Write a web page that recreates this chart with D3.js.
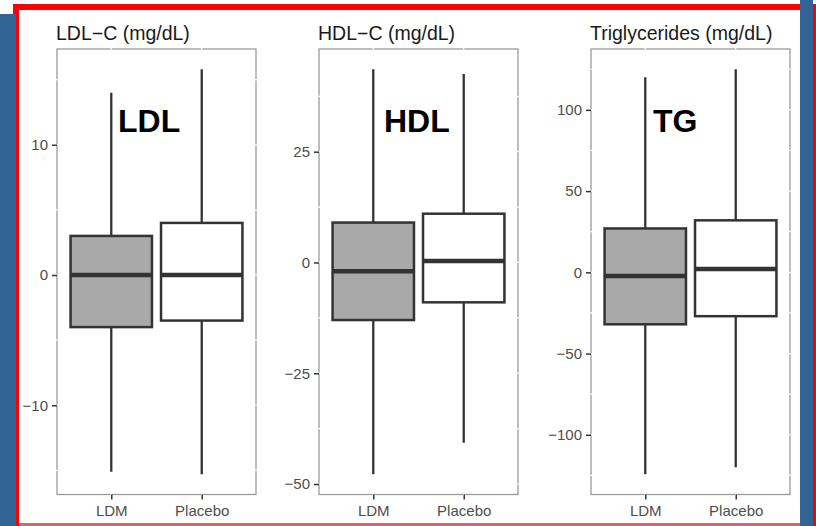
<!DOCTYPE html>
<html>
<head>
<meta charset="utf-8">
<script src="https://cdn.jsdelivr.net/npm/d3@7"></script>
<style>
    body { margin: 0; background: #fff; }
    svg { display: block; font-family: "Liberation Sans", Arial, sans-serif; }
</style>
</head>
<body>
<div id="chart"></div>
<script>
// Data: five-number summaries [min, q1, median, q3, max] per group
const groups = ["LDM", "Placebo"];
const ldl = [[-15.1, -4, 0, 3, 14], [-15.3, -3.5, 0, 4, 15.8]];
const hdl = [[-47.8, -13, -2, 9, 43.6], [-40.7, -9, 0.3, 11, 42.5]];
const tg = [[-124.3, -32, -2.2, 27, 120], [-120, -27, 2.1, 32, 125]];

const titles = ["LDL\u2212C (mg/dL)", "HDL\u2212C (mg/dL)", "Triglycerides (mg/dL)"];
const tags = ["LDL", "HDL", "TG"];
const ldlTicks = [-10, 0, 10];
const hdlTicks = [-50, -25, 0, 25];
const tgTicks = [-100, -50, 0, 50, 100];

const width = 816,
    height = 526;

const svg = d3
    .select("#chart")
    .append("svg")
    .attr("width", width)
    .attr("height", height);

// Frame: red border and blue side bars
svg.append("rect").attr("x", 13).attr("y", 4).attr("width", 803).attr("height", 522).attr("fill", "#ff0000");
svg.append("rect").attr("x", 19).attr("y", 10).attr("width", 794).attr("height", 513).attr("fill", "#fff");
svg.append("rect").attr("x", 19).attr("y", 523).attr("width", 794).attr("height", 3).attr("fill", "#f05a5a");
svg.append("rect").attr("x", 0).attr("y", 14).attr("width", 16).attr("height", 512).attr("fill", "#316395");
svg.append("rect").attr("x", 800).attr("y", 0).attr("width", 13).attr("height", 526).attr("fill", "#316395");

const panels = [
    { data: ldl, ticks: ldlTicks, x0: 57, x1: 256, tagX: 61 },
    { data: hdl, ticks: hdlTicks, x0: 319, x1: 518, tagX: 65 },
    { data: tg, ticks: tgTicks, x0: 591, x1: 790, tagX: 62 },
];
const panelTop = 49,
    panelBottom = 494.5;
const fills = ["#a9a9a9", "#ffffff"];

panels.forEach((p, i) => {
    const g = svg.append("g");

    // y range like ggplot: data range expanded by 5%
    const lo = d3.min(p.data, (d) => d[0]);
    const hi = d3.max(p.data, (d) => d[4]);
    const pad = (hi - lo) * 0.05;
    const y = d3.scaleLinear().domain([lo - pad, hi + pad]).range([panelBottom, panelTop]);

    // discrete x: positions 1..n with 0.6 expansion
    const x = d3.scaleLinear().domain([0.4, groups.length + 0.6]).range([p.x0, p.x1]);
    const bw = x(1.45) - x(0.55);

    // panel border
    g.append("rect")
        .attr("x", p.x0)
        .attr("y", panelTop)
        .attr("width", p.x1 - p.x0)
        .attr("height", panelBottom - panelTop)
        .attr("fill", "#fff")
        .attr("stroke", "#9a9a9a")
        .attr("stroke-width", 1.3);

    // white grid lines (only visible where they cross the border)
    const step = p.ticks[1] - p.ticks[0];
    const minors = d3.range(p.ticks[0] - step / 2, hi + pad, step).filter((v) => v > lo - pad);
    const grid = p.ticks.concat(minors);
    g.selectAll(".hgrid")
        .data(grid)
        .enter()
        .append("line")
        .attr("x1", p.x0 - 1)
        .attr("x2", p.x1 + 1)
        .attr("y1", (d) => y(d))
        .attr("y2", (d) => y(d))
        .attr("stroke", "#fff")
        .attr("stroke-width", 1.2);
    g.selectAll(".vgrid")
        .data(groups)
        .enter()
        .append("line")
        .attr("x1", (d, j) => x(j + 1))
        .attr("x2", (d, j) => x(j + 1))
        .attr("y1", panelTop - 1)
        .attr("y2", panelBottom + 1)
        .attr("stroke", "#fff")
        .attr("stroke-width", 1.2);

    // y axis
    const yAxis = g.append("g")
        .attr("transform", `translate(${p.x0},0)`)
        .call(d3.axisLeft(y).tickValues(p.ticks).tickSize(5).tickPadding(4).tickFormat((d) => (d < 0 ? "\u2212" + Math.abs(d) : d)));
    yAxis.select(".domain").remove();
    yAxis.selectAll("line").attr("stroke", "#333").attr("stroke-width", 1.5);
    yAxis.selectAll("text").attr("fill", "#4d4d4d").attr("font-size", 15).attr("font-family", "Liberation Sans, Arial, sans-serif");

    // x axis
    const xAxis = g.append("g")
        .attr("transform", `translate(0,${panelBottom})`)
        .call(d3.axisBottom(x).tickValues(groups.map((d, j) => j + 1)).tickSize(5).tickPadding(6).tickFormat((d) => groups[d - 1]));
    xAxis.select(".domain").remove();
    xAxis.selectAll("line").attr("stroke", "#333").attr("stroke-width", 1.5);
    xAxis.selectAll("text").attr("fill", "#4d4d4d").attr("font-size", 15).attr("font-family", "Liberation Sans, Arial, sans-serif");

    // boxes
    const box = g.selectAll(".box")
        .data(p.data)
        .enter()
        .append("g");

    box.append("line")
        .attr("x1", (d, j) => x(j + 1))
        .attr("x2", (d, j) => x(j + 1))
        .attr("y1", (d) => y(d[0]))
        .attr("y2", (d) => y(d[4]))
        .attr("stroke", "#333")
        .attr("stroke-width", 2.3);

    box.append("rect")
        .attr("x", (d, j) => x(j + 1) - bw / 2)
        .attr("y", (d) => y(d[3]))
        .attr("width", bw)
        .attr("height", (d) => y(d[1]) - y(d[3]))
        .attr("fill", (d, j) => fills[j])
        .attr("stroke", "#333")
        .attr("stroke-width", 2.5);

    box.append("line")
        .attr("x1", (d, j) => x(j + 1) - bw / 2)
        .attr("x2", (d, j) => x(j + 1) + bw / 2)
        .attr("y1", (d) => y(d[2]))
        .attr("y2", (d) => y(d[2]))
        .attr("stroke", "#333")
        .attr("stroke-width", 4.5);

    // title
    svg.append("text")
        .attr("x", p.x0 - 1)
        .attr("y", 40)
        .attr("font-size", 19.5)
        .attr("fill", "#1a1a1a")
        .text(titles[i]);

    // big tag
    svg.append("text")
        .attr("x", p.x0 + p.tagX)
        .attr("y", 132)
        .attr("font-size", 32)
        .attr("font-weight", "bold")
        .attr("fill", "#000")
        .text(tags[i]);
});
</script>
</body>
</html>
